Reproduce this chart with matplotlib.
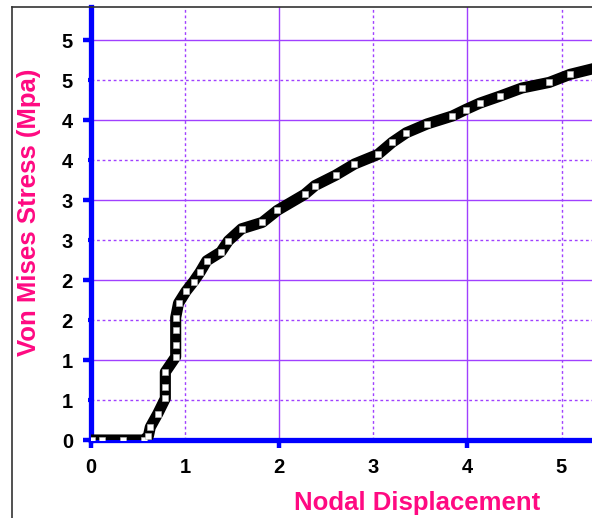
import matplotlib
matplotlib.use("Agg")
import matplotlib.pyplot as plt
from matplotlib.lines import Line2D

# displacement / stress values
disp = [0.01, 0.12, 0.34, 0.56, 0.61, 0.63, 0.71, 0.79, 0.79, 0.79,
        0.90, 0.90, 0.90, 0.90, 0.93, 1.01, 1.09, 1.16, 1.23, 1.38,
        1.46, 1.60, 1.82, 1.98, 2.27, 2.38, 2.60, 2.80, 3.05, 3.20,
        3.35, 3.57, 3.84, 3.98, 4.13, 4.35, 4.58, 4.87, 5.09, 5.40]
stress = [0.0, 0.0, 0.0, 0.0, 0.05, 0.16, 0.33, 0.52, 0.66, 0.85,
          1.04, 1.19, 1.38, 1.53, 1.71, 1.86, 1.98, 2.10, 2.24, 2.35,
          2.49, 2.64, 2.72, 2.87, 3.07, 3.18, 3.31, 3.45, 3.57, 3.72,
          3.84, 3.95, 4.05, 4.13, 4.21, 4.30, 4.40, 4.47, 4.57, 4.66]

y_major = [0, 1, 2, 3, 4, 5]
y_major_labels = ["0", "1", "2", "3", "4", "5"]
y_minor = [0.5, 1.5, 2.5, 3.5, 4.5]
y_minor_labels = ["1", "2", "3", "4", "5"]
x_major = [0, 2, 4]
x_minor = [1, 3, 5]

pink = "#ff0a82"
blue = "#0000ff"
grid_col = "#a040ff"

plt.rcParams["font.family"] = ["Liberation Sans", "DejaVu Sans"]

W, H = 592, 518
fig = plt.figure(figsize=(W / 100, H / 100), dpi=100)
ax = fig.add_axes([91 / W, (H - 440) / H, 1 - 91 / W, (440 - 7) / H])

ax.plot(disp, stress, color="black", lw=8, marker="s", ms=4.8,
        mfc="white", mec="#bbbbbb", mew=0.4, clip_on=True, zorder=3)

ax.set_xlim(0, (W - 91) / 94.1)
ax.set_ylim(0, 433 / 80)

ax.set_xticks(x_major, labels=[str(v) for v in x_major])
ax.set_xticks(x_minor, labels=[str(v) for v in x_minor], minor=True)
ax.set_yticks(y_major, labels=y_major_labels)
ax.set_yticks(y_minor, labels=y_minor_labels, minor=True)

ax.grid(which="major", color=grid_col, lw=1.0, ls="-")
ax.grid(which="minor", color=grid_col, lw=1.0, ls=(0, (2, 2)))
ax.set_axisbelow(True)

for side in ("top", "right"):
    ax.spines[side].set_visible(False)
for side in ("left", "bottom"):
    ax.spines[side].set_color(blue)
    ax.spines[side].set_linewidth(3.8)

ax.tick_params(which="major", direction="out", color=blue, length=6, width=3.2,
               labelsize=14.5, pad=7)
ax.tick_params(which="minor", direction="out", color=blue, length=2.5, width=3,
               labelsize=14.5, pad=10.5)
for lab in ax.get_xticklabels(which="both") + ax.get_yticklabels(which="both"):
    lab.set_fontweight("bold")

fig.text(417 / W, 1 - 503 / H, "Nodal Displacement", color=pink,
         fontsize=18.5, fontweight="bold", ha="center", va="center")
fig.text(29 / W, 1 - 212 / H, "Von Mises Stress (Mpa)", color=pink,
         fontsize=18.5, fontweight="bold", ha="center", va="center",
         rotation=90)

# outer frame of the original picture
fx, fy = 12 / W, 1 - 7 / H
fig.add_artist(Line2D([fx, fx], [0, fy], color="#333333", lw=1.2))
fig.add_artist(Line2D([fx, 1], [fy, fy], color="#333333", lw=1.2))

fig.savefig("out.png", dpi=100)
